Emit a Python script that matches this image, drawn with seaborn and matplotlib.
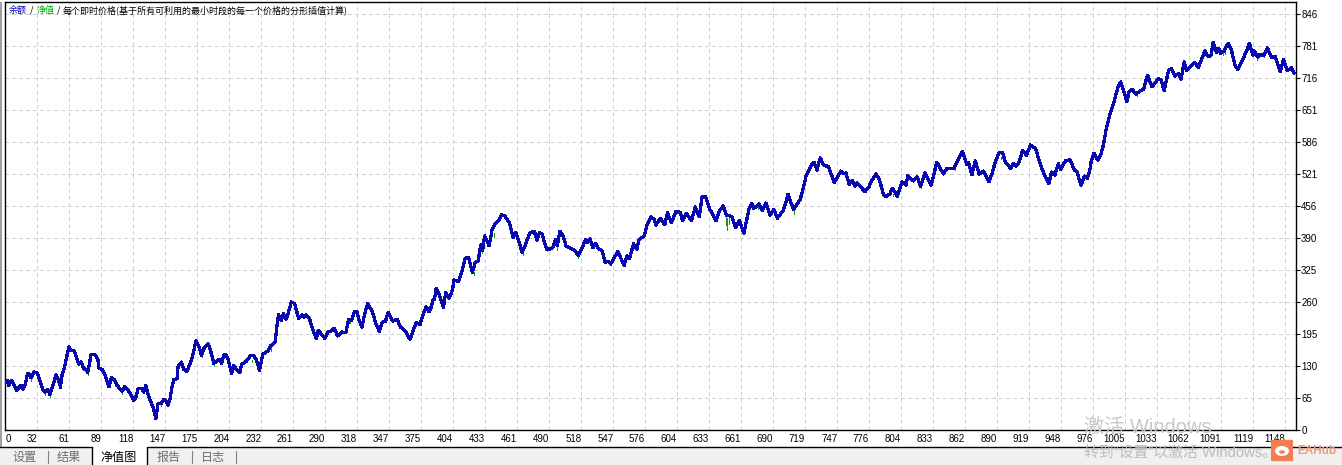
"""MT4 style equity curve from a strategy tester report."""
import matplotlib
matplotlib.use("Agg")
import matplotlib.pyplot as plt
from matplotlib.patches import Ellipse, FancyBboxPatch, Rectangle
import pandas as pd
import seaborn as sns

# trade number and balance
balance_x = [0, 2, 3, 5, 6, 8, 10, 13, 14, 16, 18, 20, 22, 23, 26, 29, 31, 34, 36, 38, 40, 43, 45.5, 48, 49.5, 51, 53, 55, 57, 59, 62, 65, 66, 68, 70, 72, 74, 77, 80.5, 83, 84, 87, 90, 93, 95, 98, 100, 102, 105, 107, 110, 112.5, 115, 117, 119, 122, 124, 126, 128, 130, 133, 135, 137, 140, 142, 144, 146, 148, 149.5, 151, 154, 155, 158, 160, 163, 167, 169, 171, 173.5, 176, 178, 182, 185, 187,
             192, 194, 196, 198, 200, 203, 205, 207.5, 210.5, 212, 216, 220, 223, 225.5, 228, 231, 236, 238, 242, 243.5, 245, 247.5, 249.5, 252, 254, 256.5, 259.5, 263, 266, 268, 270, 273, 275, 279, 280.5, 284, 286.5, 289.5, 293, 295, 298, 302, 305.5, 308, 310.5, 313, 315.5, 317.5, 320, 322, 325, 329.5, 332, 335.5, 338, 341, 343.5, 347.5, 351.5, 354.5, 358.5, 363, 365.5, 368.5, 372, 375, 377.5, 380,
             381.5, 383.5, 385, 386.5, 389, 393, 395, 398, 401, 402.5, 406.5, 409.5, 412.5, 415.5, 419, 421.5, 424, 426.5, 428, 430, 434, 436.5, 439.5, 442.5, 445, 448, 452, 455.5, 458, 461, 463.5, 467, 470.5, 474.5, 477, 479, 481.5, 485, 487, 491, 493.5, 495, 497.5, 500.5, 503, 506.5, 511, 514, 517.5, 520.5, 522.5, 524.5, 527, 529.5, 532, 535.5, 538, 541, 543, 546, 549.5, 552.5, 555, 557.5, 560, 563.5, 566.5, 568.5,
             573, 575.5, 579, 582, 583.5, 587.5, 591.5, 594, 597.5, 601.5, 605.5, 607.5, 611, 615.5, 619, 622.5, 625, 628, 631.5, 633.5, 637.5, 640.5, 644, 647, 651.5, 655, 658.5, 662.5, 667, 669.5, 671.5, 676, 679, 682.5, 686, 689.5, 692.5, 697.5, 699.5, 702, 707, 709.5, 713, 716, 718.5, 723.5, 725.5, 728, 731, 734, 738.5, 743.5, 749.5, 752, 754,
             757, 760, 762, 764, 767, 771, 774.5, 777, 781, 784, 787.5, 789.5, 793.5, 795.5, 798, 800, 804.5, 808, 809.5, 814.5, 818, 821, 825, 830.5, 835.5, 841.5, 844.5, 850.5, 855, 858.5, 862.5, 864, 867, 870, 873.5, 877.5, 882.5, 885.5, 888, 891.5, 894.5, 897, 902, 904, 907, 909.5, 912.5, 916, 919.5, 924, 928, 931.5, 936, 938.5, 941.5, 944.5, 946.5, 951, 955, 959, 961.5, 963.5,
             965, 968, 970.5, 972.5, 974, 976.5, 980, 982.5, 985, 987.5, 990.5, 994, 998, 1000.5, 1003.5, 1006, 1008, 1011, 1014, 1018, 1021, 1022.5, 1024.5, 1028.5, 1032, 1034, 1036.5, 1039.5, 1041.5, 1043.5, 1046, 1049, 1052.5, 1054.5, 1057.5, 1059.5, 1064, 1067, 1070, 1073, 1076, 1079, 1081.5, 1083.5, 1086.5, 1088.5, 1090, 1093, 1097, 1100, 1103, 1105.5, 1109, 1113, 1116, 1119, 1120.5, 1123.5, 1125.5, 1129, 1132, 1136, 1139, 1143.5, 1146.5, 1150, 1153.5, 1156]
balance_y = [97, 100, 91, 99, 100, 90, 81, 88, 91, 83, 93, 115, 112, 106, 118, 115, 100, 81, 77, 83, 72, 92, 112, 99, 87, 114, 126, 148, 169, 162, 160, 139, 134, 139, 126, 123, 117, 154, 153, 144, 126, 123, 108, 88, 106, 102, 93, 85, 79, 89, 81, 72, 60, 66, 83, 85, 77, 91, 73, 60, 43, 23, 53, 54, 62, 60, 50, 66, 87, 102, 104, 129, 138, 123, 119, 142, 160, 181, 171, 151, 165, 175, 154, 135,
             144, 135, 153, 153, 142, 115, 131, 122, 117, 134, 139, 151, 151, 141, 121, 154, 161, 171, 179, 208, 234, 222, 236, 225, 239, 260, 257, 227, 234, 229, 234, 225, 209, 185, 202, 194, 186, 199, 202, 207, 191, 199, 198, 225, 223, 240, 240, 222, 209, 233, 257, 239, 219, 200, 219, 221, 239, 221, 225, 209, 202, 184, 200, 218, 214, 237, 250, 240,
             246, 263, 266, 288, 276, 249, 279, 268, 283, 305, 302, 322, 349, 351, 320, 341, 343, 376, 364, 394, 374, 405, 420, 425, 437, 435, 422, 391, 401, 381, 361, 379, 401, 404, 385, 401, 398, 371, 366, 370, 387, 374, 404, 393, 374, 370, 364, 354, 371, 387, 381, 389, 370, 379, 368, 364, 341, 343, 337, 349, 363, 347, 334, 354, 349, 378, 367, 387,
             394, 416, 433, 428, 416, 430, 417, 441, 421, 444, 442, 425, 440, 425, 453, 433, 474, 475, 450, 443, 425, 445, 455, 436, 434, 411, 426, 400, 448, 460, 450, 459, 445, 461, 436, 448, 430, 445, 457, 479, 448, 456, 468, 494, 518, 540, 544, 528, 553, 538, 535, 502, 526, 521, 522,
             499, 507, 495, 502, 495, 484, 493, 506, 520, 509, 480, 474, 479, 491, 483, 474, 504, 497, 517, 506, 514, 495, 522, 497, 544, 520, 531, 531, 551, 566, 539, 544, 518, 547, 520, 526, 504, 524, 545, 564, 563, 545, 531, 541, 536, 545, 568, 558, 579, 572, 543, 521, 501, 524, 518, 541, 529, 547, 549, 528, 524, 506,
             497, 516, 511, 524, 545, 562, 548, 558, 579, 612, 639, 663, 696, 707, 687, 667, 687, 692, 682, 689, 692, 704, 721, 697, 707, 714, 712, 689, 711, 731, 734, 719, 724, 712, 748, 730, 741, 747, 736, 753, 770, 758, 761, 788, 766, 775, 765, 770, 786, 770, 741, 732, 748, 768, 786, 761, 770, 757, 763, 761, 776, 757, 759, 728, 752, 730, 736, 725]

# equity dips that show below the balance line
dip_x = [23, 36, 40, 70, 74, 98, 105, 112, 140, 176, 187.5, 221, 226.5, 238.5, 309, 420, 428, 438, 464, 484, 486, 495, 514, 646.5, 647.7, 649, 675.5, 707, 796, 821, 826, 852, 893, 1015, 1092, 1094, 1123, 1129]
dip_top = [106, 77, 72, 126, 117, 92, 79, 73, 53, 154, 135, 142, 131, 171, 223, 320, 364, 401, 360, 378, 367, 372, 354, 436, 430, 430, 452, 446, 479, 495, 515, 531, 555, 682, 766, 768, 757, 761]
dip_bottom = [99, 72, 68, 122, 112, 89, 73, 69, 49, 149, 130, 139, 124, 161, 218, 315, 360, 393, 355, 366, 363, 366, 349, 416, 406, 418, 449, 438, 475, 492, 511, 528, 550, 679, 762, 764, 751, 757]

x_labels = [0, 32, 61, 89, 118, 147, 175, 204, 232, 261, 290, 318, 347, 375, 404, 433, 461, 490, 518, 547, 576, 604, 633, 661, 690, 719, 747, 776, 804, 833, 862, 890, 919, 948, 976, 1005, 1033, 1062, 1091, 1119, 1148]
y_labels = [0, 65, 130, 195, 260, 325, 390, 456, 521, 586, 651, 716, 781, 846]
tabs = ["设置", "结果", "净值图", "报告", "日志"]

W, H = 1342, 465
BLUE = "#0808b0"
GREEN = "#00a800"
CJK = ["Noto Sans CJK SC", "DejaVu Sans"]
MIXED = ["Liberation Sans", "Noto Sans CJK SC"]

sns.set_theme(style="white")
plt.rcParams["font.family"] = ["Liberation Sans", "DejaVu Sans"]


def px(x, y):
    # picture pixels to figure fractions
    return x / W, 1 - y / H


balance = pd.DataFrame({"trade": balance_x, "value": balance_y})
dips = pd.DataFrame({
    "trade": dip_x + dip_x,
    "value": dip_top + dip_bottom,
    "dip": list(range(len(dip_x))) * 2,
})

fig = plt.figure(figsize=(W / 100, H / 100), dpi=100, facecolor="white")
ax = fig.add_axes([5.3 / W, 1 - 430 / H, 1291 / W, 428 / H])

sns.lineplot(data=dips, x="trade", y="value", units="dip", estimator=None,
             color=GREEN, lw=0.72, antialiased=False, ax=ax, zorder=2)
sns.lineplot(data=balance, x="trade", y="value", estimator=None,
             color=BLUE, lw=1.6, antialiased=False, ax=ax, zorder=3)

ax.set_xlim(0, 1158)
ax.set_ylim(0, 869.4)
ax.set_xlabel("")
ax.set_ylabel("")

x_step = 28.7
ax.set_xticks([i * x_step for i in range(len(x_labels))])
ax.set_xticklabels(x_labels, fontsize=7, color="black", ha="right")
ax.get_xticklabels()[0].set_ha("left")
ax.set_yticks(y_labels)
ax.yaxis.tick_right()
ax.set_yticklabels(y_labels, fontsize=7, color="black")
ax.tick_params(axis="x", length=0, pad=3)
ax.tick_params(axis="y", length=3, width=0.8, color="black", pad=0.5)
ax.grid(True, color="#d0d0d0", lw=0.72, ls=(0, (4, 3)), antialiased=False)
ax.set_axisbelow(True)
for spine in ax.spines.values():
    spine.set_color("black")
    spine.set_linewidth(1.0)

# header line, coloured word by word
for x, word, col in [(9, "余额", BLUE), (29.5, "/", "black"), (37, "净值", GREEN),
                     (57, "/", "black"),
                     (63, "每个即时价格(基于所有可利用的最小时段的每一个价格的分形插值计算)", "black")]:
    fx, fy = px(x, 10.5)
    fig.text(fx, fy, word, color=col, fontsize=6.5, family=CJK, va="center", ha="left")

# window chrome under the chart
fig.add_artist(Rectangle(px(0, 465), 1, 18 / H, transform=fig.transFigure, fc="#f0f0f0", ec="none"))
fig.add_artist(Rectangle(px(0, 447), 1.5 / W, 445 / H, transform=fig.transFigure, fc="#a0a0a0", ec="none"))
fig.add_artist(Rectangle(px(92, 465), 55 / W, 18 / H, transform=fig.transFigure, fc="white", ec="none"))
for x0, x1, y0, y1 in [(0, 92, 447, 447), (147, W, 447, 447), (92, 92, 447, 465), (147, 147, 447, 465)]:
    a, b = px(x0, y0), px(x1, y1)
    fig.add_artist(plt.Line2D([a[0], b[0]], [a[1], b[1]], color="black", lw=1.0))
for x in [48, 192, 236]:
    a, b = px(x, 451), px(x, 463)
    fig.add_artist(plt.Line2D([a[0], b[0]], [a[1], b[1]], color="#808080", lw=0.8))
for x, tab in zip([25, 69, 119, 169, 213], tabs):
    fx, fy = px(x, 457)
    fig.text(fx, fy, tab, fontsize=8.7, family=CJK, ha="center", va="center",
             color="black" if tab == "净值图" else "#6d6d6d")

# activation watermark
fx, fy = px(1084, 427)
fig.text(fx, fy, "激活 Windows", fontsize=14.5, family=MIXED, color="#c8c8c8", va="center", zorder=10)
fx, fy = px(1084, 453)
fig.text(fx, fy, "转到“设置”以激活 Windows。", fontsize=10.7, family=MIXED, color="#bcbcbc", va="center", zorder=10)

# site logo
ORANGE = "#f47c50"
fig.add_artist(FancyBboxPatch(px(1273, 460), 18 / W, 19 / H, boxstyle="round,pad=0.001",
                              transform=fig.transFigure, fc=ORANGE, ec=ORANGE, zorder=11))
fig.add_artist(Ellipse(px(1282, 451), 14 / W, 10 / H, transform=fig.transFigure, fc="white", ec="none", zorder=12))
fig.add_artist(Ellipse(px(1282, 452), 6 / W, 3.5 / H, transform=fig.transFigure, fc=ORANGE, ec="none", zorder=13))
fx, fy = px(1297, 451)
fig.text(fx, fy, "EAHub", fontsize=8.5, fontweight="bold", color="#f59a78", va="center", zorder=11)

fig.savefig("out.png", dpi=100)
plt.close(fig)
